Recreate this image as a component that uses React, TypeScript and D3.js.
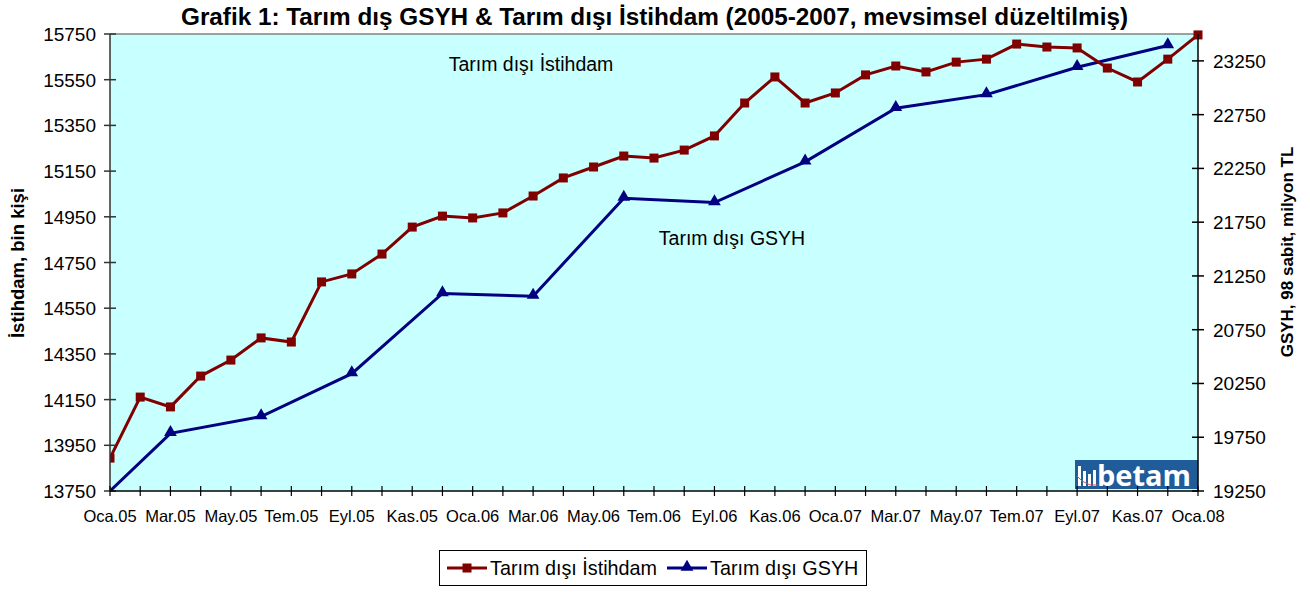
import React from 'react';
import * as d3 from 'd3';

// month labels (every month, Oca.05 .. Oca.08)
const months = [
  'Oca.05', 'Şub.05', 'Mar.05', 'Nis.05', 'May.05', 'Haz.05', 'Tem.05', 'Ağu.05', 'Eyl.05', 'Eki.05', 'Kas.05', 'Ara.05',
  'Oca.06', 'Şub.06', 'Mar.06', 'Nis.06', 'May.06', 'Haz.06', 'Tem.06', 'Ağu.06', 'Eyl.06', 'Eki.06', 'Kas.06', 'Ara.06',
  'Oca.07', 'Şub.07', 'Mar.07', 'Nis.07', 'May.07', 'Haz.07', 'Tem.07', 'Ağu.07', 'Eyl.07', 'Eki.07', 'Kas.07', 'Ara.07',
  'Oca.08',
];

// Tarım dışı İstihdam (bin kişi), monthly
const istihdam = [
  13894, 14161, 14118, 14253, 14323, 14420, 14402, 14665, 14700, 14787, 14905, 14953,
  14945, 14967, 15041, 15120, 15168, 15216, 15207, 15242, 15304, 15448, 15562, 15448,
  15492, 15571, 15610, 15584, 15627, 15640, 15706, 15693, 15689, 15601, 15540, 15640,
  15746,
];

// Tarım dışı GSYH (98 sabit, milyon TL), quarterly points
const gsyhMonths = ['Oca.05', 'Mar.05', 'Haz.05', 'Eyl.05', 'Ara.05', 'Mar.06', 'Haz.06', 'Eyl.06', 'Ara.06', 'Mar.07', 'Haz.07', 'Eyl.07', 'Ara.07'];
const gsyh = [19250, 19786, 19943, 20341, 21087, 21062, 21973, 21933, 22311, 22809, 22936, 23191, 23393];

const leftTicks = [13750, 13950, 14150, 14350, 14550, 14750, 14950, 15150, 15350, 15550, 15750];
const rightTicks = [19250, 19750, 20250, 20750, 21250, 21750, 22250, 22750, 23250];

const RED = '#800000';
const BLUE = '#000080';
const FONT = '"Liberation Sans", Arial, sans-serif';

const App = () => {
  const W = 1310;
  const H = 592;
  const plot = { left: 110, right: 1198, top: 34, bottom: 491 };

  const x = d3.scalePoint<string>().domain(months).range([plot.left, plot.right]);
  const yL = d3.scaleLinear().domain([13750, 15750]).range([plot.bottom, plot.top]);
  const yR = d3.scaleLinear().domain([19250, 23500]).range([plot.bottom, plot.top]);

  const redData = months.map((m, i) => ({ m, v: istihdam[i] }));
  const blueData = gsyhMonths.map((m, i) => ({ m, v: gsyh[i] }));

  const redLine = d3.line<{ m: string; v: number }>().x(d => x(d.m)!).y(d => yL(d.v));
  const blueLine = d3.line<{ m: string; v: number }>().x(d => x(d.m)!).y(d => yR(d.v));

  const tri = d3.symbol().type(d3.symbolTriangle).size(70)();

  return (
    <svg width={W} height={H} style={{ position: 'absolute', left: 0, top: 0, background: '#fff' }} fontFamily={FONT}>
      <defs>
        <clipPath id="plotclip">
          <rect x={plot.left} y={plot.top - 6} width={plot.right - plot.left + 6} height={plot.bottom - plot.top + 6} />
        </clipPath>
      </defs>

      {/* title */}
      <text x={181} y={25} fontSize={23} fontWeight="bold" textLength={947} lengthAdjust="spacingAndGlyphs"
        fontFamily='"Liberation Sans Narrow", "Liberation Sans", Arial, sans-serif'>
        Grafik 1: Tarım dış GSYH &amp; Tarım dışı İstihdam (2005-2007, mevsimsel düzeltilmiş)
      </text>

      {/* plot background */}
      <rect x={plot.left} y={plot.top} width={plot.right - plot.left} height={plot.bottom - plot.top} fill="#C8FFFF" />
      <line x1={plot.left} x2={plot.right} y1={plot.top} y2={plot.top} stroke="#808080" strokeWidth={1.5} />

      {/* betam logo */}
      <g>
        <rect x={1075} y={460} width={123} height={29} fill="#1F5C99" />
        <rect x={1078} y={466} width={3} height={20} fill="#fff" />
        <rect x={1083} y={471} width={3} height={15} fill="#fff" />
        <rect x={1088} y={474} width={3} height={12} fill="#fff" />
        <rect x={1093} y={470} width={3} height={16} fill="#fff" />
        <polyline points="1077,476 1082,481 1090,485 1098,485" fill="none" stroke="#e05050" strokeWidth={1} />
        <text x={1097} y={486} fill="#fff" fontSize={29} fontWeight="bold" fontFamily='"Open Sans", "Liberation Sans", sans-serif'>betam</text>
      </g>

      {/* annotations */}
      <text x={531} y={71} textAnchor="middle" fontSize={19.5}>Tarım dışı İstihdam</text>
      <text x={732} y={245} textAnchor="middle" fontSize={19.5}>Tarım dışı GSYH</text>

      {/* series */}
      <g clipPath="url(#plotclip)">
        <path d={blueLine(blueData)!} fill="none" stroke={BLUE} strokeWidth={3} />
        {blueData.slice(1).map(d => (
          <path key={d.m} d={tri!} transform={`translate(${x(d.m)},${yR(d.v) - 1})`} fill={BLUE} />
        ))}
        <path d={redLine(redData)!} fill="none" stroke={RED} strokeWidth={3} />
        {redData.map(d => (
          <rect key={d.m} x={x(d.m)! - 4.5} y={yL(d.v) - 4.5} width={9} height={9} fill={RED} />
        ))}
      </g>

      {/* left axis */}
      <line x1={plot.left} x2={plot.left} y1={plot.top} y2={plot.bottom} stroke="#333" strokeWidth={1.5} />
      {leftTicks.map(t => (
        <g key={t}>
          <line x1={plot.left - 6} x2={plot.left + 6} y1={yL(t)} y2={yL(t)} stroke="#333" strokeWidth={1.5} />
          <text x={96} y={yL(t) + 7} textAnchor="end" fontSize={19}>{t}</text>
        </g>
      ))}
      <text transform={`translate(24,263) rotate(-90)`} textAnchor="middle" fontSize={18.5} fontWeight="bold">İstihdam, bin kişi</text>

      {/* right axis */}
      <line x1={plot.right} x2={plot.right} y1={plot.top} y2={plot.bottom} stroke="#000" strokeWidth={1.5} />
      {rightTicks.map(t => (
        <g key={t}>
          <line x1={plot.right - 6} x2={plot.right + 6} y1={yR(t)} y2={yR(t)} stroke="#000" strokeWidth={1.5} />
          <text x={1213} y={yR(t) + 7} textAnchor="start" fontSize={19}>{t}</text>
        </g>
      ))}
      <text transform={`translate(1293,252) rotate(-90)`} textAnchor="middle" fontSize={17} fontWeight="bold">GSYH, 98 sabit, milyon TL</text>

      {/* bottom axis */}
      <line x1={plot.left} x2={plot.right} y1={plot.bottom} y2={plot.bottom} stroke="#000" strokeWidth={1.5} />
      {months.map((m, i) => (
        <g key={m}>
          <line x1={x(m)} x2={x(m)} y1={plot.bottom - 5} y2={plot.bottom + 5} stroke="#000" strokeWidth={1.2} />
          {i % 2 === 0 && (
            <text x={x(m)} y={522} textAnchor="middle" fontSize={16.5}>{m}</text>
          )}
        </g>
      ))}

      {/* legend */}
      <g>
        <rect x={439.5} y={550.5} width={427} height={35} fill="#fff" stroke="#000" strokeWidth={1} />
        <line x1={447} x2={487} y1={568} y2={568} stroke={RED} strokeWidth={3} />
        <rect x={462.5} y={563.5} width={9} height={9} fill={RED} />
        <text x={490} y={575} fontSize={19.8}>Tarım dışı İstihdam</text>
        <line x1={667} x2={707} y1={568} y2={568} stroke={BLUE} strokeWidth={3} />
        <path d={tri!} transform="translate(687,567)" fill={BLUE} />
        <text x={710} y={575} fontSize={19.8}>Tarım dışı GSYH</text>
      </g>
    </svg>
  );
};

export default App;
